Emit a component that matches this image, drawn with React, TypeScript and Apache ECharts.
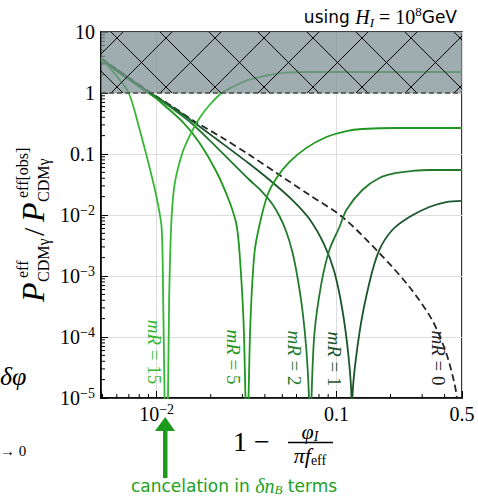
import React, { useEffect, useRef } from 'react';
import * as echarts from 'echarts';

const SERIF = '"Liberation Serif", "DejaVu Serif", serif';
const SANS = '"DejaVu Sans", sans-serif';

const X_MIN = 0.0049;
const X_MAX = 0.5;
const Y_MIN = 1e-5;
const Y_MAX = 10;
const SHADE_FLOOR = 1;

const xMinorTicks = [0.005, 0.006, 0.007, 0.008, 0.009, 0.02, 0.03, 0.04, 0.05, 0.06, 0.07, 0.08, 0.09, 0.2, 0.3, 0.4];
const yMinorMantissas = [2, 3, 4, 5, 6, 7, 8, 9];
const yMinorDecades = [1e-5, 1e-4, 1e-3, 1e-2, 0.1, 1];

const curveNames = ['mR=0', 'mR=1', 'mR=2', 'mR=5', 'mR=15'];
const curveColors = ['#262626', '#1b552c', '#237a2f', '#1f981f', '#34b834'];

const mR0: number[][] = [
  [0.0049, 3.7], [0.006, 2.44], [0.0075, 1.55], [0.00914, 1.04], [0.01, 0.873], [0.0126, 0.568],
  [0.0158, 0.361], [0.0233, 0.183], [0.0329, 0.0964], [0.0482, 0.0453], [0.0708, 0.0213],
  [0.108, 0.00927], [0.173, 0.0024], [0.255, 6.6e-4], [0.341, 1.9e-4], [0.408, 5.5e-5],
  [0.453, 1.78e-5], [0.468, 1e-5], [0.48, 3e-6],
];
const mR1: number[][] = [
  [0.0049, 3.62], [0.006, 2.4], [0.0075, 1.52], [0.00914, 1.01], [0.01, 0.86], [0.0126, 0.55],
  [0.0158, 0.345], [0.0215, 0.176], [0.0329, 0.0686], [0.0425, 0.0375], [0.0569, 0.0176],
  [0.0708, 0.0086], [0.0858, 0.00322], [0.0975, 0.00116], [0.108, 2.77e-4], [0.1166, 5.07e-5],
  [0.1213, 1.04e-5], [0.122, 1e-6], [0.1228, 1e-5], [0.1343, 1.16e-4], [0.1525, 7.7e-4],
  [0.1734, 0.00267], [0.2047, 0.00568], [0.2545, 0.00927], [0.3289, 0.01352], [0.4084, 0.0163],
  [0.5, 0.017],
];
const mR2: number[][] = [
  [0.0049, 3.55], [0.006, 2.36], [0.0075, 1.49], [0.00914, 0.99], [0.01, 0.84], [0.0126, 0.52],
  [0.0158, 0.31], [0.0215, 0.13], [0.0329, 0.0375], [0.0383, 0.0247], [0.0436, 0.0157],
  [0.0482, 0.00963], [0.0527, 0.00527], [0.0569, 0.00247], [0.0607, 9.63e-4], [0.0647, 2.77e-4],
  [0.0681, 6.12e-5], [0.0704, 1.04e-5], [0.0713, 1e-6], [0.0727, 1e-5], [0.0755, 1.16e-4],
  [0.0826, 7.7e-4], [0.0914, 0.00267], [0.104, 0.00636], [0.1137, 0.0121], [0.1394, 0.0257],
  [0.1734, 0.0404], [0.2154, 0.0489], [0.2644, 0.0527], [0.3289, 0.0547], [0.5, 0.0547],
];
const mR5: number[][] = [
  [0.0049, 3.45], [0.006, 2.27], [0.0075, 1.44], [0.00914, 0.97], [0.01, 0.8], [0.01395, 0.335],
  [0.01733, 0.151], [0.02154, 0.0507], [0.02545, 0.0163], [0.02782, 0.00686], [0.02892, 0.00238],
  [0.03041, 1.9e-4], [0.03119, 1.04e-5], [0.03182, 1e-6], [0.03245, 1.04e-5], [0.03327, 1.9e-4],
  [0.035, 0.00238], [0.03733, 0.00686], [0.0414, 0.0213], [0.04645, 0.0404], [0.05483, 0.074],
  [0.06813, 0.126], [0.08796, 0.19], [0.1137, 0.238], [0.1394, 0.257], [0.2154, 0.267], [0.5, 0.267],
];
const mR15: number[][] = [
  [0.0049, 3.75], [0.00592, 1.97], [0.00699, 1.0], [0.00805, 0.247], [0.0095, 0.0375],
  [0.01014, 0.0157], [0.01066, 0.00612], [0.01087, 4e-4], [0.01107, 1.04e-5], [0.01129, 1e-6],
  [0.01156, 1.04e-5], [0.01173, 4e-4], [0.01207, 0.00767], [0.01259, 0.0322], [0.01395, 0.108],
  [0.01565, 0.23], [0.01733, 0.389], [0.01969, 0.636], [0.02297, 1.0], [0.02713, 1.3],
  [0.0321, 1.63], [0.0398, 1.9], [0.0501, 2.13], [0.0708, 2.21], [0.5, 2.21],
];
const curves = [mR0, mR1, mR2, mR5, mR15];

function tickLabel(v: number): string {
  const lg = Math.log10(v);
  const e = Math.round(lg);
  if (Math.abs(lg - e) > 1e-3) {
    if (Math.abs(v - 0.5) < 1e-6) return '{b|0.5}';
    return '';
  }
  if (e === 1) return '{b|10}';
  if (e === 0) return '{b|1}';
  if (e === -1) return '{b|0.1}';
  return '{b|10}{sup|\u2212' + (-e) + '}';
}

const labelRich = {
  b: { fontFamily: SERIF, fontSize: 20, lineHeight: 24, color: '#000' },
  sup: { fontFamily: SERIF, fontSize: 14, lineHeight: 14, verticalAlign: 'top', color: '#000' },
};

export default function App() {
  const ref = useRef<HTMLDivElement>(null);
  useEffect(() => {
    if (!ref.current) return;
    const chart = echarts.init(ref.current, undefined, { renderer: 'svg' });
    const yMinorTicks = yMinorDecades.flatMap((d) => yMinorMantissas.map((m) => m * d));

    const lineSeries = curves.map((data, i) => ({
      type: 'line',
      name: curveNames[i],
      data,
      showSymbol: false,
      smooth: 0.3,
      clip: true,
      z: 4,
      lineStyle: {
        color: curveColors[i],
        width: 1.8,
        type: i === 0 ? [7, 4] : 'solid',
      },
      silent: true,
    }));

    const rot = -Math.PI / 2;
    const curveLabel = (txt: string, x: number, y: number, color: string) => ({
      type: 'text', x, y, rotation: rot, z: 100,
      style: {
        text: '{i|mR}{n| = ' + txt + '}',
        align: 'center', verticalAlign: 'middle',
        rich: {
          i: { fontFamily: SERIF, fontStyle: 'italic', fontSize: 19, fill: color, color },
          n: { fontFamily: SERIF, fontSize: 19, fill: color, color },
        },
        fill: color,
      },
    });

    const option: any = {
      animation: false,
      backgroundColor: '#ffffff',
      textStyle: { fontFamily: SERIF },
      grid: {
        left: 101, right: 16, top: 32, bottom: 100,
        show: true, borderColor: '#000', borderWidth: 1.6, backgroundColor: 'transparent',
        containLabel: false, outerBoundsMode: 'none',
      },
      xAxis: {
        type: 'log', logBase: 10, min: X_MIN, max: X_MAX,
        axisLine: { show: true, lineStyle: { color: '#000', width: 1.6 } },
        axisTick: { show: true, inside: true, length: 7, lineStyle: { color: '#000', width: 1 } },
        splitLine: { show: true, lineStyle: { color: '#dddddd', width: 1 } },
        axisLabel: {
          show: true, margin: 4, interval: 0, showMinLabel: true, showMaxLabel: true,
          formatter: tickLabel, rich: labelRich, color: '#000',
        },
      },
      yAxis: {
        type: 'log', logBase: 10, min: Y_MIN, max: Y_MAX,
        axisLine: { show: true, lineStyle: { color: '#000', width: 1.6 } },
        axisTick: { show: true, inside: true, length: 7, lineStyle: { color: '#000', width: 1 } },
        splitLine: { show: true, lineStyle: { color: '#dddddd', width: 1 } },
        axisLabel: {
          show: true, margin: 6, interval: 0, showMinLabel: true, showMaxLabel: true,
          formatter: tickLabel, rich: labelRich, color: '#000',
        },
      },
      series: [
        ...lineSeries,
        {
          type: 'custom', coordinateSystem: 'cartesian2d', z: 3, silent: true,
          data: xMinorTicks.map((v) => [v, Y_MIN]),
          renderItem: (_p: any, api: any) => {
            const p = api.coord([api.value(0), api.value(1)]);
            return { type: 'line', shape: { x1: p[0], y1: p[1], x2: p[0], y2: p[1] - 4 }, style: { stroke: '#000', lineWidth: 1 } };
          },
        },
        {
          type: 'custom', coordinateSystem: 'cartesian2d', z: 3, silent: true,
          data: yMinorTicks.map((v) => [X_MIN, v]),
          renderItem: (_p: any, api: any) => {
            const p = api.coord([api.value(0), api.value(1)]);
            return { type: 'line', shape: { x1: p[0], y1: p[1], x2: p[0] + 4, y2: p[1] }, style: { stroke: '#000', lineWidth: 1 } };
          },
        },
        {
          type: 'custom', coordinateSystem: 'cartesian2d', z: 10, silent: true,
          data: [[X_MIN, Y_MAX, X_MAX, SHADE_FLOOR]],
          encode: { x: [0, 2], y: [1, 3] },
          renderItem: (_p: any, api: any) => {
            const a = api.coord([api.value(0), api.value(1)]);
            const b = api.coord([api.value(2), api.value(3)]);
            const x0 = a[0], y0 = a[1];
            const W = b[0] - a[0], H = b[1] - a[1];
            const children: any[] = [
              { type: 'rect', shape: { x: x0, y: y0, width: W, height: H }, style: { fill: 'rgba(122,140,146,0.72)' } },
            ];
            const step = 49;
            const hatch = { stroke: '#000', lineWidth: 1 };
            for (let c = 39 - step * 10; c <= H + step; c += step) {
              const u0 = Math.max(0, -c), u1 = Math.min(W, H - c);
              if (u1 > u0) children.push({ type: 'line', shape: { x1: x0 + u0, y1: y0 + u0 + c, x2: x0 + u1, y2: y0 + u1 + c }, style: hatch });
            }
            for (let c = 22; c <= W + H + step; c += step) {
              const u0 = Math.max(0, c - H), u1 = Math.min(W, c);
              if (u1 > u0) children.push({ type: 'line', shape: { x1: x0 + u0, y1: y0 + c - u0, x2: x0 + u1, y2: y0 + c - u1 }, style: hatch });
            }
            children.push({
              type: 'line', shape: { x1: x0, y1: y0 + H, x2: x0 + W, y2: y0 + H },
              style: { stroke: '#4a4a4a', lineWidth: 1.6, lineDash: [5, 3] },
            });
            return { type: 'group', children };
          },
        },
      ],
      graphic: [
        {
          type: 'text', x: 457, y: 17, z: 100,
          style: {
            text: '{s|using }{h|H}{hs|I}{m| = 10}{sup|8}{s|GeV}',
            align: 'right', verticalAlign: 'middle',
            rich: {
              s: { fontFamily: SANS, fontSize: 17, lineHeight: 24, fill: '#000' },
              h: { fontFamily: SERIF, fontStyle: 'italic', fontSize: 20, lineHeight: 24, fill: '#000' },
              hs: { fontFamily: SERIF, fontStyle: 'italic', fontSize: 13, lineHeight: 13, verticalAlign: 'bottom', fill: '#000' },
              m: { fontFamily: SERIF, fontSize: 20, lineHeight: 24, fill: '#000' },
              sup: { fontFamily: SERIF, fontSize: 13, lineHeight: 13, verticalAlign: 'top', fill: '#000' },
            },
          },
        },
        {
          type: 'group', x: 33, y: 302, rotation: Math.PI / 2, z: 100,
          children: [
            { type: 'text', x: 0, y: 0, style: { text: 'P', font: 'italic 32px ' + SERIF, fill: '#000', verticalAlign: 'middle' } },
            { type: 'text', x: 24, y: -11, style: { text: 'eff', font: '16px ' + SERIF, fill: '#000', verticalAlign: 'middle' } },
            { type: 'text', x: 20, y: 10, style: { text: 'CDM\u03b3', font: '16px ' + SERIF, fill: '#000', verticalAlign: 'middle' } },
            { type: 'text', x: 66, y: 0, style: { text: '/', font: '30px ' + SERIF, fill: '#000', verticalAlign: 'middle' } },
            { type: 'text', x: 80, y: 0, style: { text: 'P', font: 'italic 32px ' + SERIF, fill: '#000', verticalAlign: 'middle' } },
            { type: 'text', x: 104, y: -11, style: { text: 'eff[obs]', font: '16px ' + SERIF, fill: '#000', verticalAlign: 'middle' } },
            { type: 'text', x: 100, y: 10, style: { text: 'CDM\u03b3', font: '16px ' + SERIF, fill: '#000', verticalAlign: 'middle' } },
          ],
        },
        { type: 'text', x: 233, y: 441, z: 100, style: { text: '1 \u2212', font: '28px ' + SERIF, fill: '#000', verticalAlign: 'middle' } },
        {
          type: 'text', x: 310, y: 431, z: 100,
          style: {
            text: '{i|\u03c6}{s|I}', align: 'center', verticalAlign: 'middle',
            rich: {
              i: { fontFamily: SERIF, fontStyle: 'italic', fontSize: 22, lineHeight: 24, fill: '#000' },
              s: { fontFamily: SERIF, fontStyle: 'italic', fontSize: 14, lineHeight: 14, verticalAlign: 'bottom', fill: '#000' },
            },
          },
        },
        { type: 'line', z: 100, shape: { x1: 288, y1: 442.5, x2: 333, y2: 442.5 }, style: { stroke: '#000', lineWidth: 1.5 } },
        {
          type: 'text', x: 310, y: 455, z: 100,
          style: {
            text: '{i|\u03c0f}{s|eff}', align: 'center', verticalAlign: 'middle',
            rich: {
              i: { fontFamily: SERIF, fontStyle: 'italic', fontSize: 22, lineHeight: 24, fill: '#000' },
              s: { fontFamily: SERIF, fontSize: 14, lineHeight: 14, verticalAlign: 'bottom', fill: '#000' },
            },
          },
        },
        curveLabel('15', 154, 352, curveColors[4]),
        curveLabel('5', 233, 357, curveColors[3]),
        curveLabel('2', 294, 358, curveColors[2]),
        curveLabel('1', 334, 359, curveColors[1]),
        curveLabel('0', 438, 358, curveColors[0]),
        { type: 'rect', z: 100, shape: { x: 163, y: 428, width: 4.5, height: 50 }, style: { fill: '#1c9a1c' } },
        { type: 'polygon', z: 100, shape: { points: [[155, 431], [175, 431], [165.2, 417]] }, style: { fill: '#1c9a1c' } },
        {
          type: 'text', x: 234, y: 486, z: 100,
          style: {
            text: '{s|cancelation in }{m|\u03b4n}{ms|B}{s| terms}', align: 'center', verticalAlign: 'middle',
            rich: {
              s: { fontFamily: SANS, fontSize: 17, lineHeight: 20, fill: '#22a022' },
              m: { fontFamily: SERIF, fontStyle: 'italic', fontSize: 20, lineHeight: 20, fill: '#22a022' },
              ms: { fontFamily: SERIF, fontStyle: 'italic', fontSize: 13, lineHeight: 13, verticalAlign: 'bottom', fill: '#22a022' },
            },
          },
        },
        { type: 'text', x: 0, y: 376, z: 100, style: { text: '\u03b4\u03c6', font: 'italic 26px ' + SERIF, fill: '#000', verticalAlign: 'middle' } },
        { type: 'text', x: 0, y: 451, z: 100, style: { text: '\u2192 0', font: '15px ' + SERIF, fill: '#000', verticalAlign: 'middle' } },
      ],
    };
    chart.setOption(option);
    return () => chart.dispose();
  }, []);
  return <div ref={ref} style={{ position: 'fixed', left: 0, top: 0, width: 478, height: 498 }} />;
}
